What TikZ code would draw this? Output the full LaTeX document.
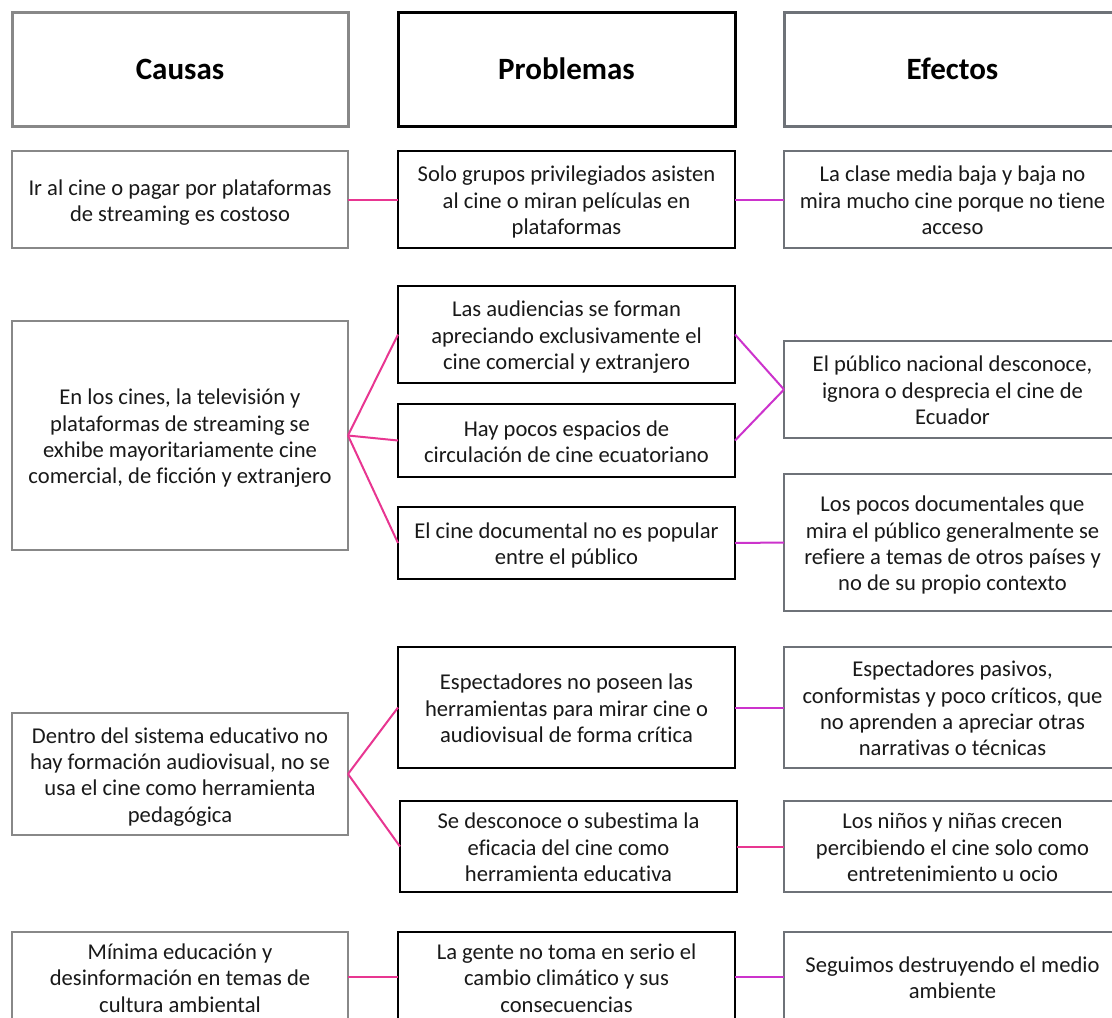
\documentclass[tikz,border=0pt]{standalone}
\usepackage{fontspec}
\setmainfont{Carlito}[Ligatures=NoCommon]
\definecolor{cgray}{RGB}{136,136,136}
\definecolor{egray}{RGB}{110,114,120}
\definecolor{cpink}{RGB}{232,54,145}
\definecolor{cmag}{RGB}{204,51,204}
\definecolor{txt}{RGB}{25,25,25}
\newcommand{\boxtxt}[1]{\raisebox{0pt}[\dimexpr\height+7pt\relax][\depth]{\begin{tabular}{@{}c@{}}#1\end{tabular}}}
\begin{document}
\begin{tikzpicture}[x=1pt,y=-1pt,
  base/.style={rectangle,inner sep=0pt,outer sep=0pt,align=center,text=txt,font=\fontsize{22.6}{26.4}\selectfont,line width=2pt},
  sz/.style 2 args={minimum width=#1,minimum height=#2},
  causebox/.style={base,draw=cgray},
  probbox/.style={base,draw=black},
  effbox/.style={base,draw=egray},
  head/.style={font=\fontsize{31}{36}\selectfont\bfseries,text=black,line width=3pt},
  cp/.style={draw=cpink,line width=2pt},
  pe/.style={draw=cmag,line width=2pt}]
\useasboundingbox (0,0) rectangle (1112,1018);
\clip (0,0) rectangle (1112,1018);
\fill[white] (0,0) rectangle (1112,1018);
% headers
\node[causebox,head,sz={336}{114}] (hc) at (180,69) {Causas};
\node[probbox,head,sz={337}{114}] (hp) at (566.5,69) {Problemas};
\node[effbox,head,sz={337}{114}] (he) at (952.5,69) {Efectos};
% row 1
\node[causebox,sz={336}{97}] (c1) at (180,199.5) {\boxtxt{Ir al cine o pagar por plataformas\\de streaming es costoso}};
\node[probbox,sz={337}{97}] (p1) at (566.5,199.5) {\boxtxt{Solo grupos privilegiados asisten\\al cine o miran películas en\\plataformas}};
\node[effbox,sz={337}{97}] (e1) at (952.5,199.5) {\boxtxt{La clase media baja y baja no\\mira mucho cine porque no tiene\\acceso}};
% row 2
\node[causebox,sz={336}{229}] (c2) at (180,435.5) {\boxtxt{En los cines, la televisión y\\plataformas de streaming se\\exhibe mayoritariamente cine\\comercial, de ficción y extranjero}};
\node[probbox,sz={337}{97}] (p2a) at (566.5,334.5) {\boxtxt{Las audiencias se forman\\apreciando exclusivamente el\\cine comercial y extranjero}};
\node[probbox,sz={337}{73}] (p2b) at (566.5,440.5) {\boxtxt{Hay pocos espacios de\\circulación de cine ecuatoriano}};
\node[probbox,sz={337}{72}] (p2c) at (566.5,543) {\boxtxt{El cine documental no es popular\\entre el público}};
\node[effbox,sz={337}{97}] (e2a) at (952.5,389.5) {\boxtxt{El público nacional desconoce,\\ignora o desprecia el cine de\\Ecuador}};
\node[effbox,sz={337}{137}] (e2b) at (952.5,542.5) {\boxtxt{Los pocos documentales que\\mira el público generalmente se\\refiere a temas de otros países y\\no de su propio contexto}};
% row 3
\node[causebox,sz={336}{122}] (c3) at (180,774) {\boxtxt{Dentro del sistema educativo no\\hay formación audiovisual, no se\\usa el cine como herramienta\\pedagógica}};
\node[probbox,sz={337}{121}] (p3a) at (566.5,707.5) {\boxtxt{Espectadores no poseen las\\herramientas para mirar cine o\\audiovisual de forma crítica}};
\node[probbox,sz={337}{91}] (p3b) at (568.5,846.5) {\boxtxt{Se desconoce o subestima la\\eficacia del cine como\\herramienta educativa}};
\node[effbox,sz={337}{121}] (e3a) at (952.5,707.5) {\boxtxt{Espectadores pasivos,\\conformistas y poco críticos, que\\no aprenden a apreciar otras\\narrativas o técnicas}};
\node[effbox,sz={337}{91}] (e3b) at (952.5,846.5) {\boxtxt{Los niños y niñas crecen\\percibiendo el cine solo como\\entretenimiento u ocio}};
% row 4
\node[causebox,sz={336}{90}] (c4) at (180,977) {\boxtxt{Mínima educación y\\desinformación en temas de\\cultura ambiental}};
\node[probbox,sz={337}{90}] (p4) at (566.5,977) {\boxtxt{La gente no toma en serio el\\cambio climático y sus\\consecuencias}};
\node[effbox,sz={337}{90}] (e4) at (952.5,977) {\boxtxt{Seguimos destruyendo el medio\\ambiente}};
% connectors
\draw[cp] (c1.east) -- (p1.west);
\draw[pe] (p1.east) -- (e1.west);
\draw[cp] (c2.east) -- (p2a.west);
\draw[cp] (c2.east) -- (p2b.west);
\draw[cp] (c2.east) -- (p2c.west);
\draw[pe] (p2a.east) -- (e2a.west);
\draw[pe] (p2b.east) -- (e2a.west);
\draw[pe] (p2c.east) -- (e2b.west);
\draw[cp] (c3.east) -- (p3a.west);
\draw[cp] (c3.east) -- (p3b.west);
\draw[pe] (p3a.east) -- (e3a.west);
\draw[cp] (p3b.east) -- (e3b.west);
\draw[cp] (c4.east) -- (p4.west);
\draw[pe] (p4.east) -- (e4.west);
\end{tikzpicture}
\end{document}
